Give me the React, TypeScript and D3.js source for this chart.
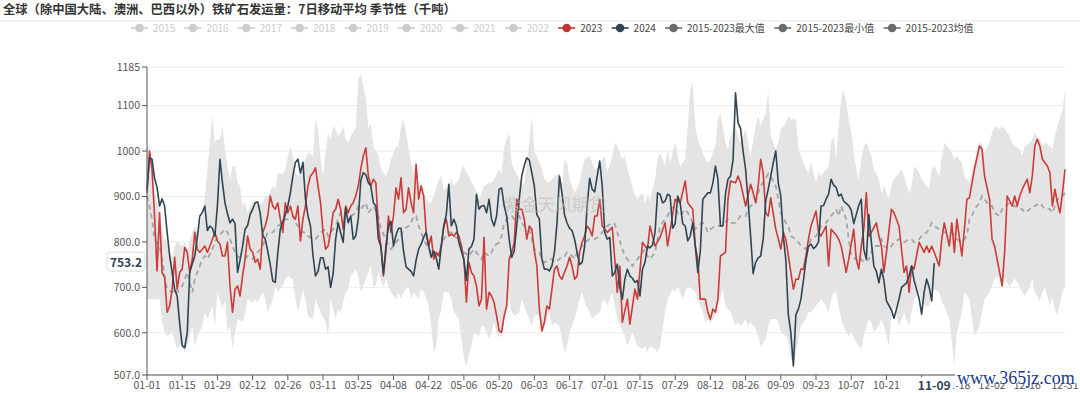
import React from 'react';
import * as d3 from 'd3';

const W = 1080;
const H = 393;
const FONT = '"Noto Sans CJK SC", "Noto Sans", sans-serif';

const title = '全球（除中国大陆、澳洲、巴西以外）铁矿石发运量：7日移动平均 季节性（千吨）';

const legendNames = ['2015', '2016', '2017', '2018', '2019', '2020', '2021', '2022', '2023', '2024', '2015-2023最大值', '2015-2023最小值', '2015-2023均值'];
const legendColors = ['#ccc', '#ccc', '#ccc', '#ccc', '#ccc', '#ccc', '#ccc', '#ccc', '#c23531', '#2f4554', '#6b6b6b', '#6b6b6b', '#6b6b6b'];
const legendActive = [false, false, false, false, false, false, false, false, true, true, true, true, true];

const xTickDays = [0, 14, 28, 42, 56, 70, 84, 98, 112, 126, 140, 154, 168, 182, 196, 210, 224, 238, 252, 266, 280, 294, 308, 322, 336, 350, 365];
const xTickLabels = ['01-01', '01-15', '01-29', '02-12', '02-26', '03-11', '03-25', '04-08', '04-22', '05-06', '05-20', '06-03', '06-17', '07-01', '07-15', '07-29', '08-12', '08-26', '09-09', '09-23', '10-07', '10-21', '11-04', '11-18', '12-02', '12-16', '12-31'];
const pointerDay = 313;
const pointerDayLabel = '11-09';
const pointerValue = 753.2;

const yTickValues = [507, 600, 700, 800, 900, 1000, 1100, 1185];
const yTickLabels = ['507.0', '600.0', '700.0', '800.0', '900.0', '1000', '1100', '1185'];

// [day of year index, value]
const series2023: [number, number][] = [
  [0,908],[1,1000],[2,960],[3,857],[4,736],[5,864],[6,733],[7,722],[8,645],[9,659],[10,696],[11,766],[12,696],[13,733],[14,740],[15,788],[16,777],[17,733],[18,762],[19,821],[20,784],[21,777],[22,784],[23,791],[24,777],[25,791],[26,806],[27,821],[28,802],[29,795],[30,769],[31,769],[32,799],[33,703],[34,645],[35,696],[36,703],[37,681],[38,725],[39,762],[40,813],[41,784],[42,777],[43,755],[44,762],[45,740],[46,821],[47,835],[48,857],[49,901],[50,879],[51,872],[52,886],[53,850],[54,821],[55,886],[56,864],[57,879],[58,857],[59,850],[60,879],[61,802],[62,850],[63,879],[64,923],[65,945],[66,952],[67,963],[68,923],[69,886],[70,821],[71,784],[72,791],[73,821],[74,864],[75,872],[76,894],[77,872],[78,828],[79,879],[80,864],[81,879],[82,886],[83,901],[84,923],[85,960],[86,989],[87,1007],[88,945],[89,923],[90,938],
  [91,930],[92,835],[93,791],[94,725],[95,777],[96,857],[97,821],[98,857],[99,919],[100,894],[101,941],[102,864],[103,872],[104,919],[105,886],[106,864],[107,971],[108,894],[109,923],[110,901],[111,821],[112,791],[113,813],[114,762],[115,777],[116,769],[117,791],[118,835],[119,850],[120,813],[121,817],[122,813],[123,821],[124,813],[125,791],[126,762],[127,667],[128,755],[129,733],[130,725],[131,703],[132,659],[133,674],[134,810],[135,652],[136,689],[137,681],[138,667],[139,637],[140,604],[141,601],[142,637],[143,659],[144,762],[145,777],[146,799],[147,894],[148,872],[149,872],[150,850],[151,806],[152,835],[153,828],[154,780],[155,747],[156,652],[157,604],[158,623],[159,659],[160,652],[161,696],[162,740],[163,747],[164,725],[165,718],[166,733],[167,747],[168,766],[169,747],[170,718],[171,725],[172,777],[173,799],[174,813],[175,835],[176,828],[177,813],[178,857],[179,857],[180,894],[181,835],
  [182,828],[183,821],[185,832],[187,689],[188,747],[189,623],[191,674],[192,619],[194,696],[195,674],[197,799],[199,784],[200,835],[202,791],[204,810],[206,842],[207,791],[210,894],[212,886],[214,934],[215,886],[217,872],[218,791],[219,762],[220,674],[222,674],[223,645],[224,630],[225,652],[226,645],[227,674],[228,769],[230,777],[231,894],[232,934],[234,930],[235,945],[236,930],[238,879],[240,927],[241,908],[242,886],[243,923],[244,982],[245,952],[246,864],[247,857],[248,897],[250,828],[252,784],[253,821],[254,806],[256,733],[257,696],[258,718],[259,718],[260,740],[261,740],[262,769],[263,806],[264,835],[266,868],[267,821],[268,813],[270,835],[271,747],[272,828],
  [274,815],[275,806],[276,791],[278,733],[279,762],[281,828],[282,762],[283,740],[284,791],[285,828],[286,908],[287,813],[288,821],[290,842],[291,813],[292,791],[293,733],[294,777],[296,872],[297,864],[299,835],[301,733],[302,747],[303,689],[304,747],[305,740],[307,799],[309,777],[310,791],[311,777],[312,791],[313,777],[315,747],[316,806],[317,842],[319,791],[320,842],[321,777],[322,850],[324,769],[325,828],[326,894],[327,897],[329,960],[331,1011],[332,1004],[333,945],[335,894],[336,806],[337,791],[339,733],[340,703],[341,777],[342,901],[344,879],[345,901],[346,879],[347,901],[348,916],[350,938],[351,908],[352,945],[353,1011],[354,1026],[355,1011],[356,982],[358,967],[359,952],[360,879],[361,916],[362,886],[363,864],[364,908],[365,960]
];

const series2024: [number, number][] = [
  [0,916],[1,985],[2,982],[3,940],[4,920],[5,879],[6,895],[7,879],[8,821],[9,770],[10,733],[11,695],[12,681],[13,620],[14,571],[15,567],[16,600],[17,733],[18,752],[19,769],[20,810],[21,857],[22,865],[23,879],[24,825],[25,835],[26,830],[27,813],[28,880],[29,982],[30,930],[31,886],[32,862],[33,842],[34,850],[35,840],[36,733],[37,760],[38,790],[39,828],[40,836],[41,860],[42,872],[43,886],[44,888],[45,864],[46,815],[47,806],[48,780],[49,750],[50,714],[51,711],[52,775],[53,828],[54,845],[55,860],[56,879],[57,908],[58,945],[59,975],[60,982],[61,952],[62,975],[63,894],[64,857],[65,835],[66,770],[67,725],[68,735],[69,765],[70,765],[71,740],[72,745],[73,700],[74,730],[75,806],[76,842],[77,820],[78,799],[79,875],[80,842],[81,857],[82,806],[83,813],[84,850],[85,935],[86,952],[87,948],[88,930],[89,923],[90,886],
  [91,879],[92,806],[93,790],[94,730],[95,790],[96,835],[97,845],[98,791],[99,815],[100,830],[101,830],[102,780],[103,745],[104,740],[105,735],[106,725],[107,760],[108,784],[109,795],[110,810],[111,821],[112,790],[113,766],[114,780],[115,765],[116,740],[117,790],[118,835],[119,860],[120,927],[121,835],[122,850],[123,835],[124,799],[125,780],[126,760],[127,715],[128,784],[129,790],[130,806],[131,905],[132,872],[133,879],[134,880],[135,864],[136,894],[137,850],[138,835],[139,857],[140,916],[141,919],[142,880],[143,857],[144,806],[145,766],[146,780],[147,835],[148,894],[149,945],[150,968],[151,985],[152,980],[153,952],[154,923],[155,860],[156,850],[157,762],[158,740],[159,740],[160,736],[161,747],[162,777],[163,840],[164,945],[165,908],[166,860],[167,842],[168,830],[169,825],[170,806],[171,777],[172,750],[173,755],[174,790],[175,879],[176,940],[177,916],[178,910],[179,945],[180,978],[181,923],[182,821],
  [183,806],[184,810],[185,725],[186,733],[187,751],[188,700],[189,674],[190,718],[191,740],[192,725],[193,720],[194,711],[195,715],[196,681],[197,740],[198,755],[199,791],[200,787],[201,793],[202,821],[203,908],[204,905],[205,886],[206,890],[207,905],[208,901],[209,830],[210,840],[211,901],[212,886],[213,840],[214,835],[215,802],[216,813],[217,842],[218,790],[219,733],[220,780],[221,894],[222,901],[223,908],[224,908],[225,930],[226,967],[227,938],[228,835],[229,835],[230,905],[231,938],[232,945],[233,980],[234,1128],[235,1062],[236,1050],[237,1000],[238,960],[239,890],[240,813],[241,730],[242,755],[243,765],[244,769],[245,806],[246,890],[247,916],[248,945],[249,974],[250,1000],[251,930],[252,900],[253,813],[254,760],[255,640],[256,600],[257,527],[258,640],[259,652],[260,674],[261,715],[262,760],[263,790],[264,795],[265,785],[266,790],[267,800],[268,879],[269,880],[270,894],[271,905],[272,938],[273,925],
  [274,920],[275,901],[276,905],[277,890],[278,885],[279,880],[280,870],[281,840],[282,860],[283,880],[284,894],[285,784],[286,762],[287,860],[288,800],[289,747],[290,735],[291,710],[292,740],[293,715],[294,670],[295,660],[296,650],[297,632],[298,652],[299,674],[300,700],[301,705],[302,710],[303,725],[304,747],[305,715],[306,695],[307,675],[308,641],[309,690],[310,718],[311,700],[312,670],[313,753.2]
];

const seriesMax: [number, number][] = [
  [0,1007],[1,1010],[2,975],[3,908],[5,872],[6,821],[7,806],[8,799],[10,762],[11,791],[12,802],[14,791],[15,800],[16,784],[18,821],[19,835],[20,821],[22,857],[23,901],[24,960],[25,1018],[26,1077],[27,1018],[28,1026],[29,1026],[30,1055],[31,1004],[32,967],[33,938],[34,967],[35,967],[36,930],[37,923],[38,879],[39,886],[40,864],[41,879],[42,886],[43,894],[44,879],[46,886],[47,901],[48,901],[50,923],[51,916],[52,952],[54,949],[55,960],[56,989],[57,1011],[58,989],[59,952],[60,945],[62,967],[63,982],[64,996],[66,989],[67,1070],[68,1048],[69,982],[70,945],[71,996],[72,1040],[73,1026],[74,1055],[75,1048],[76,1033],[77,1040],[78,1055],[79,1026],[80,1018],[81,1033],[83,1050],[84,1158],[85,1170],[86,1143],[87,1115],[88,1048],[89,1060],[90,1010],
  [91,1000],[92,990],[93,960],[95,945],[96,960],[97,982],[99,1010],[100,1010],[101,1055],[102,1070],[103,1040],[104,1004],[105,975],[106,950],[107,980],[108,930],[109,930],[110,908],[112,886],[113,886],[114,901],[116,938],[117,945],[118,915],[120,923],[121,938],[122,923],[124,938],[125,960],[126,967],[127,952],[128,945],[129,930],[130,923],[132,894],[133,908],[134,923],[136,930],[137,930],[138,938],[140,960],[141,952],[142,1010],[143,1026],[144,1040],[145,974],[146,960],[148,938],[149,923],[150,930],[152,1018],[153,1077],[154,1000],[156,974],[157,960],[158,938],[160,930],[161,938],[162,945],[164,952],[165,923],[166,982],[167,974],[168,938],[169,923],[170,908],[172,930],[173,960],[174,982],[176,989],[177,974],[178,960],[180,967],[181,982],[182,989],
  [183,952],[185,989],[186,1018],[187,1011],[189,982],[190,989],[191,960],[193,923],[194,901],[195,894],[197,908],[198,886],[199,901],[200,894],[202,938],[203,982],[204,996],[206,967],[207,1004],[208,974],[210,1018],[211,989],[212,967],[214,982],[215,1055],[216,1135],[217,1150],[218,1055],[219,1026],[221,996],[222,982],[223,974],[224,982],[226,1011],[227,1070],[228,1084],[230,1018],[231,1004],[232,1033],[234,1055],[235,1033],[236,1018],[238,1048],[239,1018],[240,989],[242,1055],[243,1077],[244,1055],[246,1084],[247,1135],[248,1033],[250,1004],[251,1018],[252,1048],[254,1062],[255,1077],[256,1070],[258,1070],[259,1004],[260,989],[262,960],[263,952],[264,974],[266,930],[267,952],[268,945],[270,960],[271,967],[272,1018],[273,1033],
  [274,982],[275,1055],[276,1113],[277,1135],[278,1106],[279,1070],[280,1040],[282,960],[283,938],[284,982],[285,1011],[286,1018],[288,989],[289,960],[291,938],[292,908],[293,923],[295,894],[296,923],[297,938],[299,952],[300,960],[301,945],[303,908],[304,923],[305,967],[307,952],[308,938],[310,923],[311,916],[312,960],[313,967],[315,945],[316,982],[317,1018],[319,1004],[320,996],[321,982],[322,989],[324,974],[325,945],[327,930],[328,952],[329,975],[331,1020],[332,1015],[333,996],[335,1018],[336,1040],[337,1055],[339,1048],[340,1055],[341,1048],[343,1033],[344,1018],[345,1011],[347,1004],[348,989],[349,1011],[351,1018],[352,1026],[353,1040],[354,1030],[355,1026],[356,1011],[357,1018],[359,1011],[360,1004],[361,1033],[362,1055],[364,1091],[365,1135]
];

const seriesMin: [number, number][] = [
  [0,674],[3,674],[5,674],[6,623],[7,601],[8,593],[10,601],[12,564],[14,579],[15,557],[16,571],[18,615],[19,571],[20,593],[22,615],[23,645],[24,630],[26,659],[27,615],[28,689],[30,652],[31,674],[32,601],[33,615],[34,564],[35,601],[36,630],[38,623],[39,640],[40,674],[42,667],[43,674],[44,667],[46,689],[47,674],[48,645],[50,674],[51,703],[52,689],[54,703],[55,718],[56,725],[58,718],[59,674],[60,645],[62,696],[63,674],[64,637],[66,630],[67,674],[68,659],[69,645],[71,623],[72,593],[73,674],[75,630],[76,652],[77,645],[79,689],[80,696],[81,725],[83,740],[84,725],[85,689],[87,718],[88,733],[89,747],[90,703],
  [91,703],[92,733],[93,718],[94,700],[95,720],[96,703],[97,689],[99,674],[100,689],[101,674],[102,689],[104,703],[105,674],[106,689],[108,674],[109,696],[110,689],[112,659],[113,615],[114,557],[115,571],[116,630],[117,652],[118,689],[120,689],[121,674],[122,645],[124,630],[125,586],[126,542],[127,527],[128,550],[129,571],[130,601],[132,593],[133,615],[134,615],[136,586],[137,601],[138,623],[139,600],[140,590],[141,595],[142,630],[144,674],[145,645],[146,637],[148,645],[149,674],[150,659],[152,630],[153,615],[154,637],[156,640],[157,600],[158,615],[160,645],[161,615],[162,623],[164,615],[165,586],[166,557],[167,571],[168,601],[169,615],[170,630],[172,674],[173,689],[174,667],[176,645],[177,630],[178,637],[180,645],[181,667],[182,674],
  [183,659],[185,689],[186,659],[187,630],[189,605],[190,593],[191,571],[193,601],[194,586],[195,571],[197,564],[198,571],[199,557],[200,571],[202,564],[203,557],[204,571],[206,645],[207,674],[209,696],[210,689],[211,703],[213,674],[214,689],[215,703],[217,696],[218,689],[219,674],[221,645],[222,623],[223,630],[224,620],[226,640],[227,660],[229,696],[230,659],[231,652],[232,645],[234,615],[235,623],[236,615],[238,630],[239,615],[240,623],[242,608],[243,593],[244,571],[246,586],[247,615],[248,630],[250,630],[251,623],[252,601],[254,593],[255,579],[256,542],[257,535],[258,557],[259,586],[260,615],[262,630],[263,645],[264,645],[266,659],[267,667],[268,674],[270,659],[271,645],[272,674],[273,689],
  [274,689],[275,659],[276,630],[277,615],[278,601],[279,593],[280,601],[282,579],[283,571],[284,564],[285,593],[287,630],[288,623],[289,601],[291,615],[292,630],[293,615],[295,571],[296,637],[297,659],[299,615],[300,630],[301,645],[303,615],[304,645],[305,674],[307,689],[308,667],[310,659],[311,659],[312,689],[313,696],[315,689],[316,667],[317,659],[319,630],[320,579],[321,527],[322,601],[324,645],[325,689],[327,674],[328,630],[329,593],[331,615],[332,645],[333,674],[335,689],[336,703],[337,720],[339,725],[340,695],[341,720],[343,700],[344,710],[345,720],[347,700],[348,690],[349,680],[351,700],[352,720],[353,690],[355,670],[356,690],[357,700],[359,660],[360,680],[361,650],[362,640],[364,690],[365,703]
];

const seriesMean: [number, number][] = [
  [0,901],[1,879],[2,850],[3,806],[5,791],[6,762],[7,725],[8,696],[10,689],[11,696],[12,689],[14,703],[15,718],[16,733],[18,689],[19,718],[20,733],[22,762],[23,769],[24,762],[26,784],[27,799],[28,813],[30,821],[31,828],[32,821],[34,791],[35,777],[36,769],[38,762],[39,762],[40,769],[42,762],[43,769],[44,777],[46,791],[47,806],[48,821],[50,821],[51,828],[52,835],[54,842],[55,850],[56,850],[58,857],[59,842],[60,835],[62,821],[63,821],[64,813],[66,806],[67,806],[68,813],[69,821],[71,828],[72,813],[73,821],[75,835],[76,850],[77,864],[79,872],[80,864],[81,857],[83,864],[84,879],[85,872],[87,886],[88,864],[89,872],[90,879],
  [92,857],[93,828],[95,806],[96,791],[97,784],[98,791],[100,806],[101,813],[102,828],[104,835],[105,842],[106,857],[107,857],[108,835],[109,821],[110,806],[112,784],[113,777],[115,769],[116,777],[117,791],[118,806],[120,821],[121,821],[122,813],[124,806],[125,791],[126,777],[128,769],[129,777],[130,784],[132,769],[133,762],[134,777],[136,769],[137,777],[138,791],[140,799],[141,813],[142,842],[144,857],[145,857],[146,850],[148,857],[149,842],[150,835],[152,828],[153,806],[154,784],[156,777],[157,762],[158,755],[160,762],[161,762],[162,755],[164,762],[165,769],[166,769],[167,777],[169,769],[170,762],[171,777],[173,791],[174,799],[176,806],[177,806],[178,806],[180,813],[181,821],[182,828],
  [183,835],[185,842],[186,839],[187,821],[189,784],[190,769],[191,762],[193,747],[194,755],[195,762],[197,777],[198,784],[199,769],[200,762],[202,777],[203,806],[204,835],[206,850],[207,857],[208,872],[210,879],[211,864],[212,857],[214,872],[215,864],[217,842],[218,828],[219,835],[221,842],[222,835],[223,821],[224,828],[226,835],[227,835],[229,835],[230,842],[231,850],[232,842],[234,842],[235,850],[236,857],[238,857],[239,872],[240,879],[242,886],[243,908],[244,923],[246,940],[247,950],[248,945],[250,923],[251,894],[252,864],[254,842],[255,835],[256,813],[258,806],[259,799],[260,791],[262,784],[263,791],[264,806],[266,813],[267,821],[268,835],[270,842],[271,850],[272,857],[273,864],
  [274,872],[275,857],[276,879],[278,850],[279,806],[280,769],[282,762],[283,755],[284,762],[285,755],[287,762],[288,777],[289,791],[291,791],[292,806],[293,791],[295,784],[296,791],[297,799],[299,806],[300,806],[301,799],[303,806],[304,806],[305,799],[307,806],[308,813],[310,821],[311,828],[312,842],[313,835],[315,828],[316,828],[317,821],[319,821],[320,821],[321,813],[322,806],[324,799],[325,806],[326,813],[327,850],[328,857],[329,872],[331,886],[332,901],[333,894],[335,879],[336,879],[337,864],[339,857],[340,872],[341,879],[343,886],[344,879],[345,879],[347,872],[348,872],[349,864],[351,872],[352,879],[353,879],[355,886],[356,879],[357,872],[359,872],[360,864],[361,879],[362,894],[364,901],[365,908]
];

function textWidth(s: string, size: number) {
  let w = 0;
  for (const ch of s) {
    if (/[0-9]/.test(ch)) w += 0.56 * size;
    else if (ch === '-') w += 0.35 * size;
    else w += size;
  }
  return w;
}

export default function App() {
  const x = d3.scaleLinear().domain([0, 365]).range([147, 1065]);
  const y = d3.scaleLinear().domain([507, 1185]).range([375, 67]);
  const line = d3.line<[number, number]>().x(d => x(d[0])).y(d => y(d[1]));

  const bandPts: [number, number][] = [
    ...seriesMax.map(d => [x(d[0]), y(d[1])] as [number, number]),
    ...seriesMin.slice().reverse().map(d => [x(d[0]), y(d[1])] as [number, number]),
  ];
  const bandPath = d3.line()(bandPts) + 'Z';

  const legFont = 10;
  let cursor = 131;
  const legendLayout = legendNames.map((name, i) => {
    const xi = cursor;
    cursor += 31 + textWidth(name, legFont);
    return { name, x: xi, color: legendColors[i], active: legendActive[i] };
  });

  const yPointer = y(pointerValue);
  const xPointer = x(pointerDay);
  // labels fully hidden behind the axis-pointer label are not drawn
  const hiddenByPointer = (d: number) => Math.abs(x(d) - xPointer) < 16;

  return (
    <svg width={W} height={H} style={{ position: 'absolute', left: 0, top: 0, fontFamily: FONT }}>
      <rect x={0} y={0} width={W} height={H} fill="#fff" />
      <text x={3} y={14} fontSize={12.3} fontWeight="bold" fill="#333">{title}</text>
      <line x1={0} x2={W} y1={21} y2={21} stroke="#e6e6e6" strokeWidth={1} />

      {legendLayout.map((l, i) => (
        <g key={i}>
          <line x1={l.x} x2={l.x + 17} y1={28} y2={28} stroke={l.color} strokeWidth={1.6} />
          <circle cx={l.x + 8.5} cy={28} r={4.3} fill={l.color} />
          <text x={l.x + 22} y={31.5} fontSize={legFont} fill={l.active ? '#444' : '#ccc'}>{l.name}</text>
        </g>
      ))}

      {yTickValues.map((v, i) => (
        <line key={'g' + i} x1={147} x2={1065} y1={y(v)} y2={y(v)} stroke="#ececec" strokeWidth={1} />
      ))}

      <path d={bandPath} fill="#e4e4e4" stroke="none" />

      <path d={line(seriesMean) || ''} fill="none" stroke="#a5a5a5" strokeWidth={1.8} strokeDasharray="5,4" />
      <path d={line(series2023) || ''} fill="none" stroke="#cc3b37" strokeWidth={1.6} strokeLinejoin="round" />
      <path d={line(series2024) || ''} fill="none" stroke="#2f4554" strokeWidth={1.6} strokeLinejoin="round" />

      <text x={555} y={211} fontSize={17} fill="#b8b8b8" opacity={0.55} textAnchor="middle">紫金天风期货</text>

      <line x1={147} x2={147} y1={67} y2={375} stroke="#555" strokeWidth={1} />
      <line x1={147} x2={1065} y1={375} y2={375} stroke="#555" strokeWidth={1} />
      {yTickValues.map((v, i) => (
        <g key={'y' + i}>
          <line x1={142} x2={147} y1={y(v)} y2={y(v)} stroke="#555" />
          <text x={140} y={y(v) + 3.8} fontSize={10.5} fill="#555" textAnchor="end">{yTickLabels[i]}</text>
        </g>
      ))}
      {xTickDays.map((d, i) => (
        <g key={'x' + i}>
          <line x1={x(d)} x2={x(d)} y1={375} y2={380} stroke="#555" />
          {!hiddenByPointer(d) && (
            <text x={x(d)} y={389} fontSize={10.5} fill="#555" textAnchor="middle">{xTickLabels[i]}</text>
          )}
        </g>
      ))}

      <rect x={xPointer - 19} y={377} width={38} height={16} fill="#fff" />
      <text x={xPointer} y={390} fontSize={12} fontWeight="bold" fill="#2f4554" textAnchor="middle">{pointerDayLabel}</text>

      <rect x={107} y={yPointer - 11} width={38} height={19} rx={3} fill="#fff" stroke="#ddd" />
      <text x={126} y={yPointer + 3.5} fontSize={12} fontWeight="bold" fill="#2f4554" textAnchor="middle">{pointerValue.toFixed(1)}</text>

      <rect x={955} y={366} width={125} height={17} fill="#fff" />
      <text x={957} y={384} fontSize={18} fontFamily='"Liberation Serif", serif' fill="#1a3a8a">www.365jz.com</text>
    </svg>
  );
}
